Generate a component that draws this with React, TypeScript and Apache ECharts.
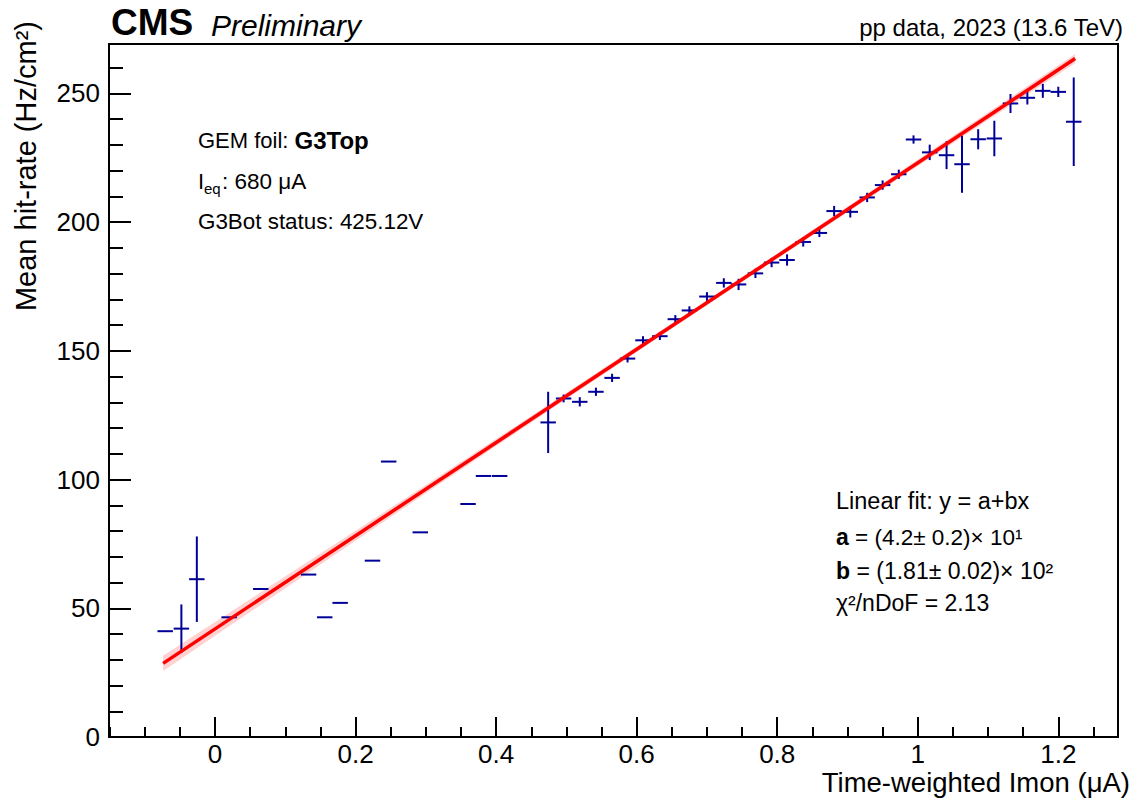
import React, { useEffect, useRef } from "react";
import * as echarts from "echarts";

// ---- data ----
const xValues = [
  -0.071, -0.048, -0.026, 0.020, 0.065, 0.133, 0.156, 0.178, 0.224, 0.247, 0.292, 0.360, 0.382, 0.405,
  0.474, 0.496, 0.519, 0.542, 0.565, 0.587, 0.609, 0.633, 0.655, 0.675, 0.700, 0.724, 0.745, 0.769,
  0.792, 0.814, 0.837, 0.860, 0.881, 0.904, 0.928, 0.950, 0.973, 0.994, 1.017, 1.041, 1.063, 1.086,
  1.109, 1.132, 1.156, 1.178, 1.200, 1.222,
];
const yValues = [
  41.1, 42.1, 61.3, 46.5, 57.5, 63.1, 46.5, 52.1, 68.5, 107.0, 79.5, 90.5, 101.4, 101.4,
  122.2, 131.5, 130.2, 134.1, 139.5, 147.0, 154.1, 155.7, 162.3, 165.7, 171.1, 176.4, 175.8, 180.1,
  184.3, 185.3, 192.3, 195.8, 204.3, 204.0, 209.6, 214.4, 218.6, 232.1, 227.1, 226.0, 222.5, 232.2,
  232.5, 246.1, 248.3, 251.0, 250.6, 239.0,
];
const yErrors = [
  0, 9.4, 16.6, 0, 0, 0, 0, 0, 0, 0, 0, 0, 0, 0,
  11.9, 1.5, 1.8, 1.6, 1.6, 1.5, 1.6, 1.5, 1.6, 1.6, 1.7, 1.8, 2.2, 1.8,
  1.8, 2.2, 1.8, 1.6, 2.0, 2.2, 1.8, 1.8, 1.8, 1.6, 3.0, 5.4, 11.1, 3.9,
  6.9, 3.7, 2.6, 2.7, 2.0, 17.2,
];
const xError = 0.011;

const fitA = 42;
const fitB = 181;
const fitRange = [-0.074, 1.224];
const bandX = [-0.074, 0.1, 0.3, 0.5, 0.7, 0.9, 1.05, 1.224];
const bandHalf = [3.0, 2.3, 1.6, 1.2, 1.0, 1.1, 1.4, 1.8];

const xAxisRange = [-0.151, 1.285];
const yAxisRange = [0, 269.2];

const FONT = '"Liberation Sans", Arial, Helvetica, sans-serif';
const BLUE = "#000099";

export default function App() {
  const ref = useRef<HTMLDivElement>(null);

  useEffect(() => {
    if (!ref.current) return;
    const chart = echarts.init(ref.current, undefined, { renderer: "svg" });

    const points = xValues.map((x, i) => [x, yValues[i], xError, yErrors[i]]);
    const fitLine = fitRange.map((x) => [x, fitA + fitB * x]);

    const text = (
      x: number,
      y: number,
      str: string,
      size: number,
      extra: any = {},
      el: any = {}
    ) => ({
      type: "text",
      x,
      y,
      silent: true,
      ...el,
      style: {
        text: str,
        fill: "#000",
        fontFamily: FONT,
        fontSize: size,
        align: "left",
        verticalAlign: "middle",
        ...extra,
      },
    });

    chart.setOption({
      animation: false,
      backgroundColor: "#fff",
      grid: {
        left: 109,
        top: 44,
        width: 1009,
        height: 693,
        show: true,
        borderColor: "#000",
        borderWidth: 2,
        backgroundColor: "transparent",
      },
      xAxis: {
        type: "value",
        min: xAxisRange[0],
        max: xAxisRange[1],
        splitNumber: 7,
        minInterval: 0.2,
        maxInterval: 0.2,
        axisLine: { show: true, onZero: false, lineStyle: { color: "#000", width: 2 } },
        axisTick: { show: true, inside: true, length: 20, lineStyle: { color: "#000", width: 2 } },
        minorTick: { show: true, splitNumber: 4, length: 10, lineStyle: { color: "#000", width: 2 } },
        splitLine: { show: false },
        axisLabel: {
          show: true,
          showMinLabel: false,
          showMaxLabel: false,
          margin: 4,
          color: "#000",
          fontFamily: FONT,
          fontSize: 26,
        },
      },
      yAxis: {
        type: "value",
        min: yAxisRange[0],
        max: yAxisRange[1],
        splitNumber: 5,
        minInterval: 50,
        maxInterval: 50,
        axisLine: { show: true, onZero: false, lineStyle: { color: "#000", width: 2 } },
        axisTick: { show: true, inside: true, length: 22, lineStyle: { color: "#000", width: 2 } },
        minorTick: { show: true, splitNumber: 5, length: 14, lineStyle: { color: "#000", width: 2 } },
        splitLine: { show: false },
        axisLabel: {
          show: true,
          showMaxLabel: false,
          margin: 9,
          color: "#000",
          fontFamily: FONT,
          fontSize: 26,
        },
      },
      series: [
        {
          type: "custom",
          name: "band",
          z: 3,
          silent: true,
          data: [[0, 0]],
          renderItem: (_params: any, api: any) => {
            const pts: number[][] = [];
            bandX.forEach((x, i) => pts.push(api.coord([x, fitA + fitB * x + bandHalf[i]])));
            for (let i = bandX.length - 1; i >= 0; i--) {
              const x = bandX[i];
              pts.push(api.coord([x, fitA + fitB * x - bandHalf[i]]));
            }
            return {
              type: "polygon",
              shape: { points: pts },
              style: { fill: "rgba(255,0,0,0.18)", stroke: "none" },
            };
          },
        },
        {
          type: "custom",
          name: "data",
          z: 4,
          silent: true,
          encode: { x: 0, y: 1 },
          data: points,
          renderItem: (_params: any, api: any) => {
            const x = api.value(0);
            const y = api.value(1);
            const ex = api.value(2);
            const ey = api.value(3);
            const l = api.coord([x - ex, y]);
            const r = api.coord([x + ex, y]);
            const t = api.coord([x, y + ey]);
            const b = api.coord([x, y - ey]);
            const style = { stroke: BLUE, lineWidth: 2 };
            return {
              type: "group",
              children: [
                { type: "line", shape: { x1: l[0], y1: l[1], x2: r[0], y2: r[1] }, style },
                { type: "line", shape: { x1: t[0], y1: t[1], x2: b[0], y2: b[1] }, style },
              ],
            };
          },
        },
        {
          type: "line",
          name: "fit",
          z: 5,
          silent: true,
          data: fitLine,
          symbol: "none",
          lineStyle: { color: "#ff0000", width: 3.5 },
        },
      ],
      graphic: [
        text(111, 22, "CMS", 37, { fontWeight: "bold" }),
        text(211, 25, "Preliminary", 30, { fontStyle: "italic" }),
        text(1123, 27, "pp data, 2023 (13.6 TeV)", 24, { align: "right" }),
        text(26, 21, "Mean hit-rate (Hz/cm²)", 29, { align: "right" }, { rotation: Math.PI / 2 }),
        text(1130, 782, "Time-weighted Imon (μA)", 27.5, { align: "right" }),
        {
          type: "text",
          x: 198,
          y: 140,
          silent: true,
          style: {
            text: "{n|GEM foil: }{b|G3Top}",
            verticalAlign: "middle",
            rich: {
              n: { fontFamily: FONT, fontSize: 22, fill: "#000" },
              b: { fontFamily: FONT, fontSize: 24, fontWeight: "bold", fill: "#000" },
            },
          },
        },
        text(198, 181, "I", 22),
        text(204, 188, "eq", 15),
        text(222, 181, ": 680 μA", 22.5),
        text(198, 221, "G3Bot status: 425.12V", 22.4),
        text(836, 501, "Linear fit: y = a+bx", 23.5),
        {
          type: "text",
          x: 836,
          y: 537,
          silent: true,
          style: {
            text: "{b|a}{n| = (4.2± 0.2)× 10¹}",
            verticalAlign: "middle",
            rich: {
              n: { fontFamily: FONT, fontSize: 22.5, fill: "#000" },
              b: { fontFamily: FONT, fontSize: 23, fontWeight: "bold", fill: "#000" },
            },
          },
        },
        {
          type: "text",
          x: 836,
          y: 571,
          silent: true,
          style: {
            text: "{b|b}{n| = (1.81± 0.02)× 10²}",
            verticalAlign: "middle",
            rich: {
              n: { fontFamily: FONT, fontSize: 23, fill: "#000" },
              b: { fontFamily: FONT, fontSize: 23, fontWeight: "bold", fill: "#000" },
            },
          },
        },
        text(836, 603, "χ²/nDoF = 2.13", 23),
      ],
    });

    return () => chart.dispose();
  }, []);

  return (
    <div
      ref={ref}
      style={{ position: "fixed", left: 0, top: 0, width: 1135, height: 798, background: "#fff" }}
    />
  );
}
